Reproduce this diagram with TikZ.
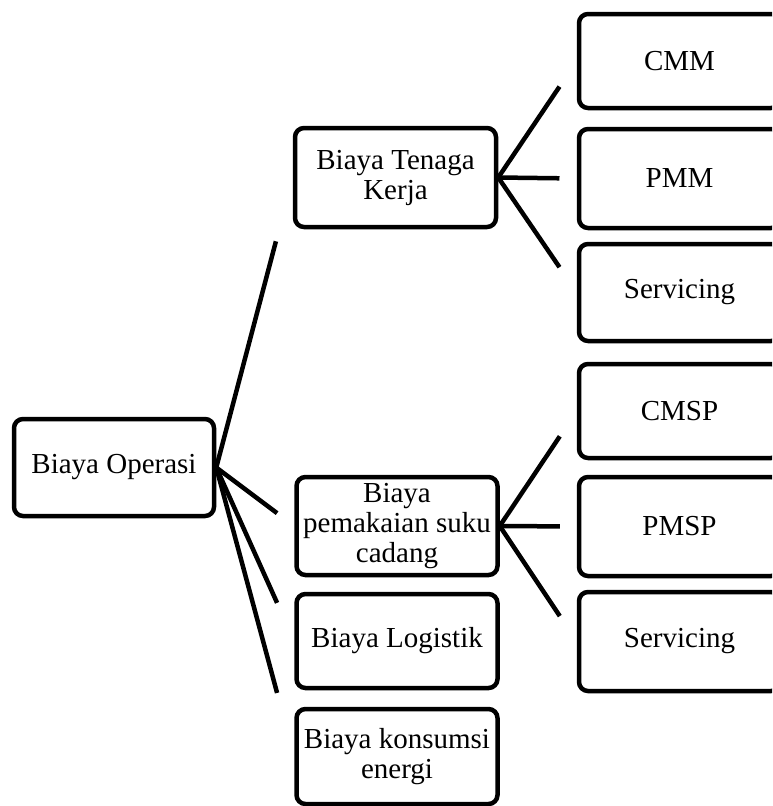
\documentclass[tikz,border=0pt]{standalone}
\usepackage{fontspec}
\setmainfont{Liberation Serif}
\usetikzlibrary{calc}

\tikzset{
    kotak/.style={draw, line width=4.5pt, rounded corners=9pt, minimum width=201pt,
        minimum height=#1, inner sep=0pt, align=center,
        font=\fontsize{29}{30}\selectfont},
    kotak/.default=96pt,
    garis/.style={line width=4.5pt}
}

\begin{document}
\begin{tikzpicture}[x=1pt, y=-1pt]
    \clip (0, 0) rectangle (772, 806);

    % root
    \node[kotak=97pt, minimum width=200pt] (operasi) at (114, 467.5){Biaya Operasi};

    % second level
    \node[kotak=99pt] (tenaga) at (395.5, 177.5){Biaya Tenaga\\Kerja};
    \node[kotak=98pt] (suku) at (397, 526){Biaya\\pemakaian suku\\cadang};
    \node[kotak=94pt] (logistik) at (397, 641){Biaya Logistik};
    \node[kotak=95pt] (energi) at (397, 756.5){Biaya konsumsi\\energi};

    % third level (cut off at the right edge)
    \node[kotak=94pt] (cmm) at (679.5, 61){CMM};
    \node[kotak=99pt] (pmm) at (679.5, 178.5){PMM};
    \node[kotak=97pt] (servis) at (679.5, 292.5){Servicing};
    \node[kotak=94pt] (cmsp) at (679.5, 411){CMSP};
    \node[kotak=99pt] (pmsp) at (679.5, 526.5){PMSP};
    \node[kotak=99pt] (servisb) at (679.5, 641.5){Servicing};

    % connectors
    \foreach \anak in {tenaga, suku, logistik, energi}
        \draw[garis] (operasi.east) -- ($(operasi.east)!.78!(\anak.west)$);
    \foreach \anak in {cmm, pmm, servis}
        \draw[garis] (tenaga.east) -- ($(tenaga.east)!.78!(\anak.west)$);
    \foreach \anak in {cmsp, pmsp, servisb}
        \draw[garis] (suku.east) -- ($(suku.east)!.78!(\anak.west)$);

\end{tikzpicture}
\end{document}
